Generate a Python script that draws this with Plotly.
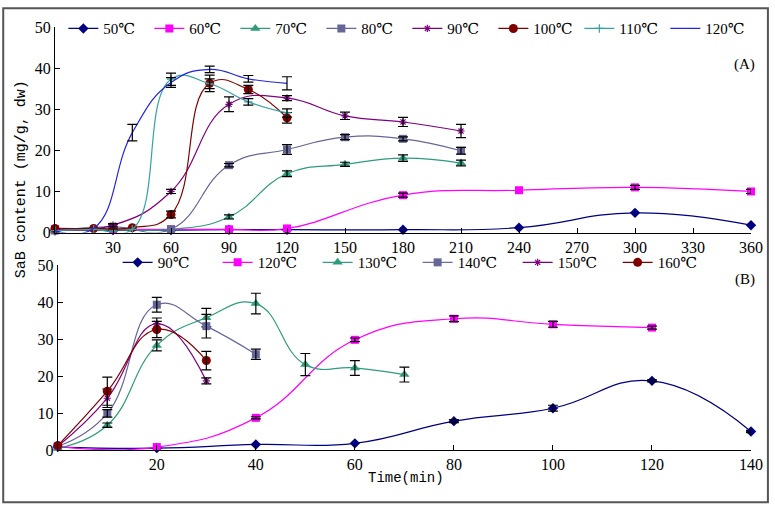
import plotly.graph_objects as go

# ---------------- Panel A data (time in min, SaB mg/g dw) ----------------
a50_t = [0, 30, 60, 90, 120, 180, 240, 300, 360]
a50_y = [0.5, 0.6, 0.6, 0.7, 0.7, 0.7, 1.2, 4.8, 1.8]

a60_t = [0, 30, 60, 90, 120, 180, 240, 300, 360]
a60_y = [0.8, 0.8, 0.8, 0.8, 1.0, 9.1, 10.3, 11.0, 10.0]
a60_et = [180, 300, 360]
a60_ey = [9.1, 11.0, 10.0]
a60_e = [0.5, 0.5, 0.5]

a70_t = [0, 30, 60, 90, 120, 150, 180, 210]
a70_y = [0.5, 0.7, 0.8, 3.8, 14.3, 16.6, 18.1, 16.9]
a70_e = [0, 0, 0, 0.5, 0.7, 0.5, 0.8, 0.7]

a80_t = [0, 30, 60, 90, 120, 150, 180, 210]
a80_y = [0.5, 1.4, 0.8, 16.4, 20.2, 23.2, 22.8, 19.9]
a80_e = [0, 0.5, 0, 0.4, 1.2, 0.6, 0.5, 0.8]

a90_t = [0, 30, 60, 90, 120, 150, 180, 210]
a90_y = [0.8, 1.8, 10.0, 31.2, 32.7, 28.4, 26.9, 24.7]
a90_e = [0, 0.4, 0.5, 1.8, 0.6, 0.9, 1.1, 1.6]

a100_t = [0, 20, 40, 60, 80, 100, 120]
a100_y = [1.0, 1.0, 1.2, 4.4, 36.3, 34.8, 27.9]
a100_e = [0, 0, 0, 0.8, 2.0, 1.0, 1.3]

a110_t = [0, 20, 40, 60, 80, 100, 120]
a110_y = [0.5, 0.8, 0.8, 37.3, 36.2, 31.8, 29.1]
a110_e = [0, 0, 0, 1.5, 1.2, 0.8, 1.0]

a120_t = [0, 20, 40, 60, 80, 100, 120]
a120_y = [0.5, 1.0, 24.3, 36.5, 39.7, 37.4, 36.3]
a120_e = [0, 0, 2.0, 1.2, 0.8, 0.8, 1.6]

# ---------------- Panel B data ----------------
b90_t = [0, 20, 40, 60, 80, 100, 120, 140]
b90_y = [0.8, 0.5, 1.5, 1.8, 7.8, 11.3, 18.7, 5.0]
b90_e = [0, 0, 0, 0, 0.4, 0.8, 0.3, 0.3]

b120_t = [0, 20, 40, 60, 80, 100, 120]
b120_y = [1.0, 0.8, 8.7, 29.8, 35.5, 34.0, 33.1]
b120_e = [0, 0, 0.3, 0.5, 0.8, 0.8, 0.4]

b130_t = [0, 10, 20, 30, 40, 50, 60, 70]
b130_y = [0.5, 6.7, 28.3, 35.8, 39.6, 23.1, 22.2, 20.4]
b130_e = [0, 0.6, 1.5, 2.5, 2.8, 3.0, 2.0, 2.0]

b140_t = [0, 10, 20, 30, 40]
b140_y = [1.0, 9.9, 39.3, 33.5, 25.9]
b140_e = [0, 1.0, 2.0, 3.2, 1.4]

b150_t = [0, 10, 20, 30]
b150_y = [1.0, 14.0, 34.2, 18.7]
b150_e = [0, 2.5, 1.5, 0.8]

b160_t = [0, 10, 20, 30]
b160_y = [1.2, 15.9, 32.6, 24.2]
b160_e = [0, 3.8, 2.2, 2.5]

a_ticks = [30, 60, 90, 120, 150, 180, 210, 240, 270, 300, 330, 360]
b_ticks = [20, 40, 60, 80, 100, 120, 140]
y_ticks = [0, 10, 20, 30, 40, 50]

NAVY = "#000080"
MAG = "#FF00FF"
SEA = "#2E9C7A"
SLATE = "#666699"
PURP = "#800080"
DRED = "#800000"
TEAL = "#33A3A3"
BLUE = "#2525DD"

SERIF = "Liberation Serif, DejaVu Serif, serif"
MONO = "Liberation Mono, DejaVu Sans Mono, monospace"

fig = go.Figure()


def add_series(t, y, name, color, symbol, size, xa, ya, legend, err=None, err_t=None, err_y=None):
    mode = "lines" if symbol is None else "lines+markers"
    marker = dict(color=color, size=size)
    if symbol is not None:
        marker["symbol"] = symbol
        if "thin" in symbol or "open" in symbol:
            marker["line"] = dict(color=color, width=1.2)
    fig.add_trace(go.Scatter(
        x=t, y=y, name=name, mode=mode,
        line=dict(color=color, width=1.2, shape="spline", smoothing=1.3),
        marker=marker, xaxis=xa, yaxis=ya, legend=legend, cliponaxis=False,
    ))
    if err is not None:
        if err_t is None:
            et = [tt for tt, e in zip(t, err) if e > 0]
            ey = [yy for yy, e in zip(y, err) if e > 0]
            ee = [e for e in err if e > 0]
        else:
            et, ey, ee = err_t, err_y, err
        fig.add_trace(go.Scatter(
            x=et, y=ey, mode="markers", showlegend=False,
            marker=dict(size=1, color="rgba(0,0,0,0)"),
            error_y=dict(type="data", array=ee, color="black", thickness=1.2, width=5),
            xaxis=xa, yaxis=ya, hoverinfo="skip",
        ))


# Panel A
add_series(a50_t, a50_y, "50℃", NAVY, "diamond", 8, "x", "y", "legend")
add_series(a60_t, a60_y, "60℃", MAG, "square", 8, "x", "y", "legend", a60_e, a60_et, a60_ey)
add_series(a70_t, a70_y, "70℃", SEA, "triangle-up", 9, "x", "y", "legend", a70_e)
add_series(a80_t, a80_y, "80℃", SLATE, "square", 8, "x", "y", "legend", a80_e)
add_series(a90_t, a90_y, "90℃", PURP, "asterisk-open", 6, "x", "y", "legend", a90_e)
add_series(a100_t, a100_y, "100℃", DRED, "circle", 9, "x", "y", "legend", a100_e)
add_series(a110_t, a110_y, "110℃", TEAL, "cross-thin-open", 6, "x", "y", "legend", a110_e)
add_series(a120_t, a120_y, "120℃", BLUE, None, 4, "x", "y", "legend", a120_e)

# Panel B
add_series(b90_t, b90_y, "90℃", NAVY, "diamond", 8, "x2", "y2", "legend2", b90_e)
add_series(b120_t, b120_y, "120℃", MAG, "square", 8, "x2", "y2", "legend2", b120_e)
add_series(b130_t, b130_y, "130℃", SEA, "triangle-up", 9, "x2", "y2", "legend2", b130_e)
add_series(b140_t, b140_y, "140℃", SLATE, "square", 8, "x2", "y2", "legend2", b140_e)
add_series(b150_t, b150_y, "150℃", PURP, "asterisk-open", 6, "x2", "y2", "legend2", b150_e)
add_series(b160_t, b160_y, "160℃", DRED, "circle", 9, "x2", "y2", "legend2", b160_e)

axis_common = dict(showgrid=False, zeroline=False, showline=True, linecolor="black",
                   linewidth=1, ticks="inside", ticklen=5, tickcolor="black",
                   tickfont=dict(family=SERIF, size=16, color="black"))

fig.update_layout(
    width=775, height=508,
    paper_bgcolor="white", plot_bgcolor="white",
    margin=dict(l=55, r=21, t=22, b=58),
    xaxis=dict(domain=[0, 1], range=[0, 360], tickvals=a_ticks, anchor="y", **axis_common),
    yaxis=dict(domain=[0.514, 1.0], range=[0, 50], tickvals=y_ticks, anchor="x", **axis_common),
    xaxis2=dict(domain=[0.004, 1], range=[0, 140], tickvals=b_ticks, anchor="y2", **axis_common),
    yaxis2=dict(domain=[0, 0.437], range=[0, 50], tickvals=y_ticks, anchor="x2", **axis_common),
    legend=dict(orientation="h", x=0.012, y=1.035, xanchor="left", yanchor="top",
                font=dict(family=SERIF, size=15, color="black"), bgcolor="rgba(0,0,0,0)",
                entrywidth=41, entrywidthmode="pixels", itemwidth=30),
    legend2=dict(orientation="h", x=0.09, y=0.482, xanchor="left", yanchor="top",
                 font=dict(family=SERIF, size=15, color="black"), bgcolor="rgba(0,0,0,0)",
                 entrywidth=55, entrywidthmode="pixels", itemwidth=30),
    showlegend=True,
)

fig.add_annotation(text="(A)", xref="x", yref="y", x=360, y=41, xanchor="right",
                   yanchor="middle", xshift=6, showarrow=False,
                   font=dict(family=SERIF, size=15, color="black"))
fig.add_annotation(text="(B)", xref="x2", yref="y2", x=140, y=46, xanchor="right",
                   yanchor="middle", xshift=6, showarrow=False,
                   font=dict(family=SERIF, size=15, color="black"))
fig.add_annotation(text="SaB content (mg/g, dw)", xref="paper", yref="paper",
                   x=-0.064, y=0.64, textangle=-90, showarrow=False,
                   font=dict(family=MONO, size=15, color="black"))
fig.add_annotation(text="Time(min)", xref="paper", yref="paper", x=0.505, y=-0.089,
                   showarrow=False, font=dict(family=MONO, size=14, color="black"))

fig.add_shape(type="rect", xref="paper", yref="paper",
              x0=-0.0744, x1=1.0243, y0=-0.1238, y1=1.0444,
              line=dict(color="#555555", width=2), fillcolor="rgba(0,0,0,0)")

fig.write_html("out.html", config={"displayModeBar": False},
               post_script="document.body.style.margin='0';")
